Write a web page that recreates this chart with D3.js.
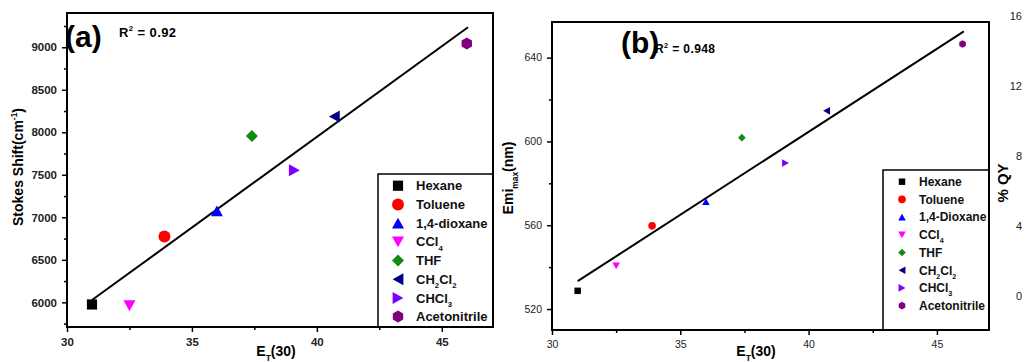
<!DOCTYPE html>
<html>
<head>
<meta charset="utf-8">
<script src="https://cdn.jsdelivr.net/npm/d3@7"></script>
<style>
  body { margin: 0; background: #fff; }
  svg { display: block; font-family: "Liberation Sans", Arial, sans-serif; }
  .tick line { stroke: #000; stroke-width: 1.5; }
</style>
</head>
<body>
<div id="chart"></div>
<script>
// solvents, in legend order
var solvents = ["Hexane", "Toluene", "1,4-dioxane", "CCl4", "THF", "CH2Cl2", "CHCl3", "Acetonitrile"];
var legendA = ["Hexane", "Toluene", "1,4-dioxane", "CCl_4", "THF", "CH_2Cl_2", "CHCl_3", "Acetonitrile"];
var legendB = ["Hexane", "Toluene", "1,4-Dioxane", "CCl_4", "THF", "CH_2Cl_2", "CHCl_3", "Acetonitrile"];
var shapes = ["square", "circle", "up", "down", "diamond", "left", "right", "hexagon"];
var colors = ["#000000", "#ff0000", "#0000ff", "#ff00ff", "#138a13", "#000080", "#7f00ff", "#800080"];

// E_T(30) of each solvent
var etValues = [31.0, 33.9, 36.0, 32.5, 37.4, 40.7, 39.1, 46.0];
// (a) stokes shift, cm-1
var stokesShift = [5975, 6775, 7075, 5960, 7955, 8185, 7555, 9045];
// (b) emission maximum, nm
var emiMax = [528.7, 559.7, 571.3, 540.6, 601.8, 614.6, 589.7, 646.5];

// linear fits (end points)
var fitX = [31.0, 46.05];
var fitA = [6027, 9235];
var fitB = [533.3, 652.5];

// ticks
var xTicks = [30, 35, 40, 45];
var xMinor = [32.5, 37.5, 42.5];
var yTicksA = [6000, 6500, 7000, 7500, 8000, 8500, 9000];
var yMinorA = [5750, 6250, 6750, 7250, 7750, 8250, 8750, 9250];
var yTicksB = [520, 560, 600, 640];
var yMinorB = [540, 580, 620];
var qyTicks = [0, 4, 8, 12, 16];

var svg = d3.select("#chart").append("svg")
    .attr("width", 1025)
    .attr("height", 362);

svg.append("rect").attr("width", 1025).attr("height", 362).attr("fill", "#fff");

/**
*   writes "CH_2Cl_2", "R^2", "Emi_{max}" as text with sub/superscripts
*/
function rich(text, str, fs) {
    var re = /([_^])\{([^}]*)\}|([_^])(.)|([^_^]+)/g, m, shift = 0;
    while ((m = re.exec(str))) {
        var kind = m[1] || m[3] || "";
        var s = m[2] !== undefined ? m[2] : (m[4] !== undefined ? m[4] : m[5]);
        var target = kind == "_" ? fs * 0.35 : (kind == "^" ? -fs * 0.4 : 0);
        text.append("tspan")
            .attr("dy", target - shift)
            .attr("font-size", kind ? fs * 0.6 : fs)
            .text(s);
        shift = target;
    }
}

function shapePath(shape, r) {
    var p = d3.path(), i, a;
    if (shape == "square") {
        p.rect(-r * 0.85, -r * 0.85, r * 1.7, r * 1.7);
    } else if (shape == "circle") {
        p.arc(0, 0, r, 0, 2 * Math.PI);
    } else if (shape == "diamond") {
        p.moveTo(0, -r); p.lineTo(r, 0); p.lineTo(0, r); p.lineTo(-r, 0); p.closePath();
    } else if (shape == "hexagon") {
        for (i = 0; i < 6; i++) {
            a = Math.PI / 2 + i * Math.PI / 3;
            if (i == 0) p.moveTo(r * Math.cos(a), r * Math.sin(a));
            else p.lineTo(r * Math.cos(a), r * Math.sin(a));
        }
        p.closePath();
    } else {
        // triangles, pointing up / down / left / right
        var h = r * 0.9;
        var pts = {
            up: [[0, -h], [r, h], [-r, h]],
            down: [[0, h], [r, -h], [-r, -h]],
            left: [[-h, 0], [h, -r], [h, r]],
            right: [[h, 0], [-h, -r], [-h, r]]
        }[shape];
        p.moveTo(pts[0][0], pts[0][1]);
        p.lineTo(pts[1][0], pts[1][1]);
        p.lineTo(pts[2][0], pts[2][1]);
        p.closePath();
    }
    return p.toString();
}

/**
*   Draws one panel
*/
function drawPanel(p) {
    var x = d3.scaleLinear().domain(p.xDomain).range([p.left, p.right]);
    var y = d3.scaleLinear().domain(p.yDomain).range([p.bottom, p.top]);
    var g = svg.append("g");

    // minor ticks
    g.append("g")
        .attr("transform", "translate(0," + p.bottom + ")")
        .call(d3.axisBottom(x).tickValues(xMinor).tickSize(3).tickFormat(""));
    g.append("g")
        .attr("transform", "translate(" + p.left + ",0)")
        .call(d3.axisLeft(y).tickValues(p.yMinor).tickSize(3).tickFormat(""));

    // major ticks + labels
    var xAxis = g.append("g")
        .attr("transform", "translate(0," + p.bottom + ")")
        .call(d3.axisBottom(x).tickValues(xTicks).tickSize(5).tickPadding(6).tickFormat(d3.format("d")));
    var yAxis = g.append("g")
        .attr("transform", "translate(" + p.left + ",0)")
        .call(d3.axisLeft(y).tickValues(p.yTicks).tickSize(5).tickPadding(5).tickFormat(d3.format("d")));

    [xAxis, yAxis].forEach(function(ax) {
        ax.selectAll("text")
            .attr("font-size", p.tickFont)
            .attr("font-weight", p.tickWeight)
            .attr("font-family", "Liberation Sans, Arial, sans-serif")
            .attr("fill", "#222");
    });
    g.selectAll(".domain").remove();

    // legend box
    g.append("rect")
        .attr("x", p.legend.x)
        .attr("y", p.legend.y)
        .attr("width", p.right - p.legend.x)
        .attr("height", p.bottom - p.legend.y)
        .attr("fill", "#fff")
        .attr("stroke", "#000")
        .attr("stroke-width", 1.5);

    var rows = g.selectAll(".legrow")
        .data(solvents)
        .enter().append("g")
        .attr("class", "legrow")
        .attr("transform", function(d, i) { return "translate(0," + (p.legend.row0 + i * p.legend.step) + ")"; });
    rows.append("path")
        .attr("transform", "translate(" + p.legend.sx + ",0)")
        .attr("d", function(d, i) { return shapePath(shapes[i], p.r); })
        .attr("fill", function(d, i) { return colors[i]; });
    rows.append("text")
        .attr("x", p.legend.tx)
        .attr("y", p.legend.fs * 0.36)
        .attr("font-weight", "bold")
        .attr("fill", "#111")
        .each(function(d, i) { rich(d3.select(this), p.legendLabels[i], p.legend.fs); });

    // fit line
    var line = d3.line()
        .x(function(d) { return x(d[0]); })
        .y(function(d) { return y(d[1]); });
    g.append("path")
        .datum(fitX.map(function(v, i) { return [v, p.fit[i]]; }))
        .attr("d", line)
        .attr("fill", "none")
        .attr("stroke", "#000")
        .attr("stroke-width", 2);

    // points
    g.selectAll(".pt")
        .data(solvents)
        .enter().append("path")
        .attr("class", "pt")
        .attr("transform", function(d, i) { return "translate(" + x(etValues[i]) + "," + y(p.values[i]) + ")"; })
        .attr("d", function(d, i) { return shapePath(shapes[i], p.r); })
        .attr("fill", function(d, i) { return colors[i]; });

    // frame
    g.append("rect")
        .attr("x", p.left)
        .attr("y", p.top)
        .attr("width", p.right - p.left)
        .attr("height", p.bottom - p.top)
        .attr("fill", "none")
        .attr("stroke", "#000")
        .attr("stroke-width", 2);

    // panel tag and R2
    g.append("text")
        .attr("x", p.tag.x).attr("y", p.tag.y)
        .attr("font-size", 30).attr("font-weight", "bold")
        .text(p.tag.text);
    var r2 = g.append("text")
        .attr("x", p.r2.x).attr("y", p.r2.y)
        .attr("font-weight", "bold")
        .attr("letter-spacing", 0.4);
    rich(r2, "R^2 = " + p.r2.text, p.r2.fs);

    // axis titles
    var xt = g.append("text")
        .attr("x", p.xTitle.x).attr("y", p.xTitle.y)
        .attr("text-anchor", "middle")
        .attr("font-weight", "bold");
    rich(xt, "E_T(30)", 14);
    var yt = g.append("text")
        .attr("transform", "translate(" + p.yTitle.x + "," + p.yTitle.y + ") rotate(-90)")
        .attr("text-anchor", "middle")
        .attr("font-weight", "bold");
    rich(yt, p.yTitle.text, 14);

    return { x: x, y: y };
}

drawPanel({
    left: 67, right: 493, top: 13, bottom: 327,
    xDomain: [30, 47.05], yDomain: [5710, 9403],
    yTicks: yTicksA, yMinor: yMinorA,
    tickFont: 11.5, tickWeight: "bold",
    values: stokesShift, fit: fitA, r: 6,
    legendLabels: legendA,
    legend: { x: 378, y: 174, sx: 398, tx: 416, row0: 185.7, step: 18.7, fs: 13 },
    tag: { x: 65, y: 47, text: "(a)" },
    r2: { x: 119, y: 36.5, text: "0.92", fs: 13 },
    xTitle: { x: 276, y: 356 },
    yTitle: { x: 23, y: 167, text: "Stokes Shift(cm^{-1})" }
});

drawPanel({
    left: 552, right: 989, top: 22, bottom: 330,
    xDomain: [30, 47.03], yDomain: [510, 657],
    yTicks: yTicksB, yMinor: yMinorB,
    tickFont: 10.5, tickWeight: "normal",
    values: emiMax, fit: fitB, r: 3.8,
    legendLabels: legendB,
    legend: { x: 883, y: 170, sx: 902, tx: 919, row0: 181.7, step: 17.7, fs: 12 },
    tag: { x: 621, y: 53, text: "(b)" },
    r2: { x: 655, y: 53, text: "0.948", fs: 12 },
    xTitle: { x: 756, y: 356 },
    yTitle: { x: 513, y: 178, text: "Emi_{max}(nm)" }
});

// right-hand %QY labels of panel (b), cut by the page edge
var qy = d3.scaleLinear().domain([0, 16]).range([296.5, 16.5]);
svg.selectAll(".qy")
    .data(qyTicks)
    .enter().append("text")
    .attr("class", "qy")
    .attr("x", 1022)
    .attr("y", function(d) { return qy(d); })
    .attr("dy", "0.35em")
    .attr("text-anchor", "end")
    .attr("font-size", 11)
    .attr("fill", "#222")
    .text(function(d) { return d; });

var qt = svg.append("text")
    .attr("transform", "translate(1007.5,183) rotate(-90)")
    .attr("text-anchor", "middle")
    .attr("font-weight", "bold");
rich(qt, "% QY", 15);
</script>
</body>
</html>
